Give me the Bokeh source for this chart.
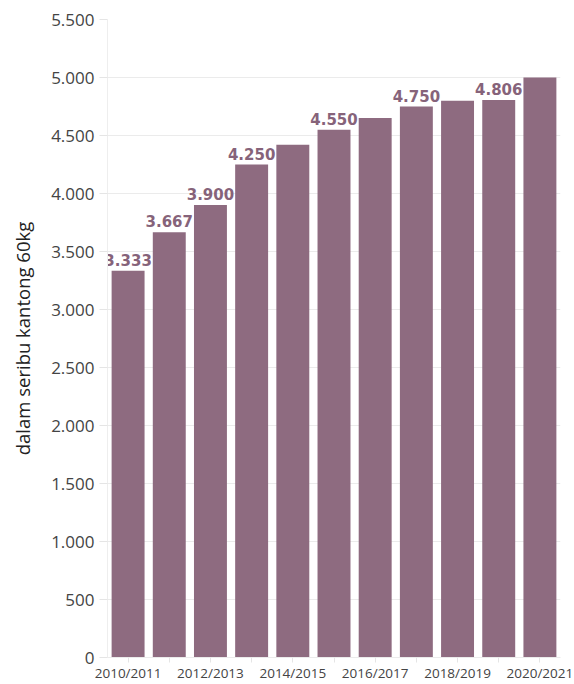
from bokeh.plotting import figure
from bokeh.models import ColumnDataSource, FixedTicker, Range1d
from bokeh.core.properties import value
from bokeh.embed import file_html
from bokeh.resources import INLINE

# Musim panen dan produksi (ribu kantong 60kg)
seasons = ["2010/2011", "2011/2012", "2012/2013", "2013/2014", "2014/2015",
           "2015/2016", "2016/2017", "2017/2018", "2018/2019", "2019/2020",
           "2020/2021"]
production = [3333, 3667, 3900, 4250, 4420, 4550, 4650, 4750, 4800, 4806, 5000]
# Musim yang diberi label nilai
labeled = [0, 1, 2, 3, 5, 7, 9]
y_ticks = [0, 500, 1000, 1500, 2000, 2500, 3000, 3500, 4000, 4500, 5000, 5500]
y_title = "dalam seribu kantong 60kg"

BAR = "#8E6B80"
TEXT = "#444444"


def id_num(v):
    return f"{v:,}".replace(",", ".")


xs = list(range(len(seasons)))
src = ColumnDataSource(dict(x=xs, y=production))
lab = ColumnDataSource(dict(
    x=[xs[i] for i in labeled],
    y=[production[i] for i in labeled],
    t=[id_num(production[i]) for i in labeled],
))

p = figure(width=574, height=684, output_backend="svg", toolbar_location=None,
           x_range=Range1d(-0.5, len(seasons) - 0.5), y_range=Range1d(0, 5500),
           min_border_left=107, min_border_right=14, min_border_top=19,
           min_border_bottom=20)
p.outline_line_color = None
p.background_fill_color = "white"
p.border_fill_color = "white"

# value labels sit behind the bars so a neighbouring bar can cover their edge
p.text(x="x", y="y", text="t", source=lab, text_align="center",
       text_baseline="bottom", y_offset=-5, text_color="#86637A",
       text_font=value("DejaVu Sans"), text_font_style="bold",
       text_font_size="15px")
p.vbar(x="x", top="y", width=0.8, source=src, fill_color=BAR,
       line_color=None)

p.xgrid.grid_line_color = None
p.ygrid.grid_line_color = "#EBEBEB"
p.ygrid.grid_line_width = 1

p.yaxis.ticker = FixedTicker(ticks=y_ticks)
p.yaxis.major_label_overrides = {t: id_num(t) for t in y_ticks}
p.yaxis.axis_label = y_title
p.yaxis.axis_label_text_font = "Open Sans"
p.yaxis.axis_label_text_font_style = "normal"
p.yaxis.axis_label_text_font_size = "18.5px"
p.yaxis.axis_label_text_color = "#222222"
p.yaxis.axis_label_standoff = 13
p.yaxis.major_label_text_font = "Open Sans"
p.yaxis.major_label_text_font_size = "17px"
p.yaxis.major_label_text_color = TEXT
p.yaxis.major_label_standoff = 5
p.yaxis.major_tick_out = 8
p.yaxis.major_tick_in = 0
p.yaxis.major_tick_line_color = "#E5E5E5"
p.yaxis.minor_tick_line_color = None
p.yaxis.axis_line_color = "#EEEEEE"

p.xaxis.ticker = FixedTicker(ticks=xs)
p.xaxis.major_label_overrides = {i: (seasons[i] if i % 2 == 0 else "") for i in xs}
p.xaxis.major_label_text_font = "Open Sans"
p.xaxis.major_label_text_font_size = "13.5px"
p.xaxis.major_label_text_color = TEXT
p.xaxis.major_label_standoff = 1
p.xaxis.major_tick_out = 5
p.xaxis.major_tick_in = 0
p.xaxis.major_tick_line_color = "#E5E5E5"
p.xaxis.minor_tick_line_color = None
p.xaxis.axis_line_color = "#EBEBEB"

open("out.html", "w").write(file_html(p, INLINE))
